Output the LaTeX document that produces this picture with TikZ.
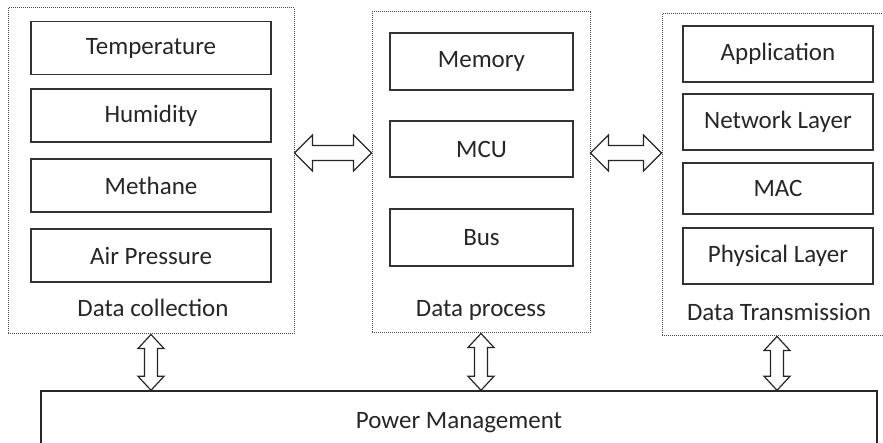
\documentclass[tikz,border=0pt]{standalone}
\usepackage{fontspec}
\setmainfont{Carlito}
\usetikzlibrary{calc}

% hollow two-headed block arrows between two points
\newcommand{\hollowH}[2]{%
  \draw[hollow] let \p1=(#1), \p2=(#2) in
    (\x1,\y1) -- (\x1+18pt,\y1+18pt) -- (\x1+18pt,\y1+7.5pt) -- (\x2-18pt,\y1+7.5pt)
    -- (\x2-18pt,\y1+18pt) -- (\x2,\y1) -- (\x2-18pt,\y1-18pt) -- (\x2-18pt,\y1-7.5pt)
    -- (\x1+18pt,\y1-7.5pt) -- (\x1+18pt,\y1-18pt) -- cycle;}
\newcommand{\hollowV}[2]{%
  \draw[hollow] let \p1=(#1), \p2=(#2) in
    (\x1,\y1) -- (\x1+13pt,\y1-14pt) -- (\x1+6.5pt,\y1-14pt) -- (\x1+6.5pt,\y2+14pt)
    -- (\x1+13pt,\y2+14pt) -- (\x1,\y2) -- (\x1-13pt,\y2+14pt) -- (\x1-6.5pt,\y2+14pt)
    -- (\x1-6.5pt,\y1-14pt) -- (\x1-13pt,\y1-14pt) -- cycle;}

\begin{document}
\begin{tikzpicture}[x=1pt,y=-1pt,
  every node/.style={font=\fontsize{25}{30}\selectfont, text=black!85},
  item/.style={draw=black!80, line width=1.4pt, inner sep=0pt},
  group/.style={draw=black!70, line width=1pt, densely dotted, inner sep=0pt},
  hollow/.style={draw=black!85, line width=1.2pt, fill=white, line join=miter}]

\useasboundingbox (0,0) rectangle (883,443);
\clip (0,0) rectangle (883,443);

% dotted group frames
\node[group, minimum width=286pt, minimum height=326pt] (dc) at (151,171) {};
\node[group, minimum width=218pt, minimum height=321pt] (dp) at (481,172.5) {};
\node[group, minimum width=230pt, minimum height=322pt] (dt) at (777,175) {};

% sensing
\node[item, minimum width=240pt, minimum height=53pt] (temp) at (151,48)    {Temperature};
\node[item, minimum width=240pt, minimum height=53pt] (hum)  at (151,115.5) {Humidity};
\node[item, minimum width=240pt, minimum height=53pt] (meth) at (151,185.5) {Methane};
\node[item, minimum width=240pt, minimum height=53pt] (air)  at (151,255.5) {Air Pressure};
\node (dcl) at (153,308) {Data collection};

% processing
\node[item, minimum width=183pt, minimum height=57pt] (mem) at (481.5,61.5)  {Memory};
\node[item, minimum width=183pt, minimum height=56pt] (mcu) at (481.5,149)   {MCU};
\node[item, minimum width=183pt, minimum height=57pt] (bus) at (481.5,237.5) {Bus};
\node (dpl) at (481,310) {Data process};

% transmission stack
\node[item, minimum width=190pt, minimum height=56pt] (app) at (778,54)    {Application};
\node[item, minimum width=190pt, minimum height=56pt] (net) at (778,122)   {Network Layer};
\node[item, minimum width=190pt, minimum height=51pt] (mac) at (778,188.5) {MAC};
\node[item, minimum width=190pt, minimum height=56pt] (phy) at (778,256)   {Physical Layer};
\node (dtl) at (779,312) {Data Transmission};

% power
\node[draw=black!85, line width=1.4pt, minimum width=836pt, minimum height=64pt] (pm) at (459,423) {Power Management};

% links
\coordinate (l1) at ($(dc.east |- mcu.center)+(0,4)$);
\coordinate (l2) at ($(dp.west |- mcu.center)+(0,4)$);
\coordinate (r1) at ($(dp.east |- mcu.center)+(0,4)$);
\coordinate (r2) at ($(dt.west |- mcu.center)+(0,4)$);
\hollowH{l1}{l2}
\hollowH{r1}{r2}
\hollowV{dc.south}{dc.south |- pm.north}
\hollowV{dp.south}{dp.south |- pm.north}
\hollowV{dt.south}{dt.south |- pm.north}
\end{tikzpicture}
\end{document}
